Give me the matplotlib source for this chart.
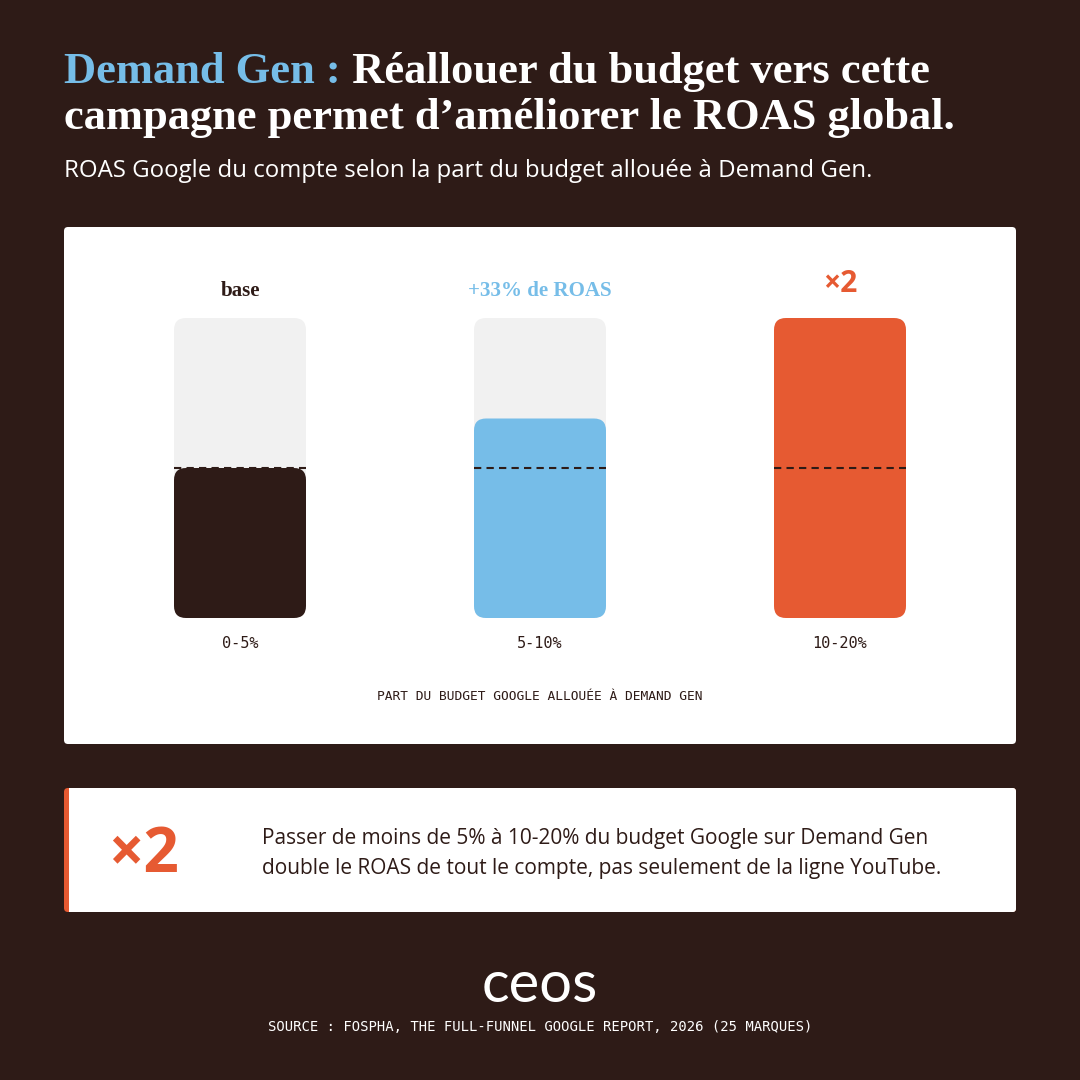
import matplotlib
matplotlib.use("Agg")
import matplotlib.pyplot as plt
from matplotlib.patches import FancyBboxPatch, Rectangle

# données
categories = ["0-5%", "5-10%", "10-20%"]
roas_index = [1.0, 1.33, 2.0]
top_labels = ["base", "+33% de ROAS", "\u00d72"]
axis_label = "PART DU BUDGET GOOGLE ALLOUÉE À DEMAND GEN"
title_blue = "Demand Gen :"
title_rest = " Réallouer du budget vers cette"
title_line2 = "campagne permet d’améliorer le ROAS global."
subtitle = "ROAS Google du compte selon la part du budget allouée à Demand Gen."
callout_big = "\u00d72"
callout_text = ["Passer de moins de 5% à 10-20% du budget Google sur Demand Gen",
                "double le ROAS de tout le compte, pas seulement de la ligne YouTube."]
source = "SOURCE : FOSPHA, THE FULL-FUNNEL GOOGLE REPORT, 2026 (25 MARQUES)"

# couleurs
BG = "#2e1b17"
BLUE = "#76bde8"
ORANGE = "#e65a32"
TRACK = "#f1f1f1"
bar_colors = [BG, BLUE, ORANGE]
label_colors = [BG, BLUE, ORANGE]

SERIF = ["Liberation Serif", "DejaVu Serif"]
SANS = ["Open Sans", "DejaVu Sans"]
MONO = ["DejaVu Sans Mono"]

def pt(px):
    return px * 0.72

fig = plt.figure(figsize=(10.8, 10.8), dpi=100, facecolor=BG)
bg = fig.add_axes([0, 0, 1, 1])
bg.set_xlim(0, 1080)
bg.set_ylim(1080, 0)
bg.axis("off")

# titre
t1 = bg.text(64, 83, title_blue, color=BLUE, fontsize=pt(44.5), fontweight="bold",
             family=SERIF, va="baseline")
bg.annotate(title_rest, xy=(1, 0), xycoords=t1, va="bottom", ha="left",
            color="white", fontsize=pt(44.5), fontweight="bold", family=SERIF)
bg.text(64, 129, title_line2, color="white", fontsize=pt(44.5), fontweight="bold",
        family=SERIF, va="baseline")
bg.text(64, 177, subtitle, color="white", fontsize=pt(24), family=SANS, va="baseline")

# panneau du graphique
bg.add_patch(FancyBboxPatch((64, 227), 952, 517, boxstyle="round,pad=0,rounding_size=4",
                            fc="white", ec="none"))

# axes des barres
ax = fig.add_axes([90 / 1080, (1080 - 618) / 1080, 900 / 1080, 300 / 1080])
ax.set_xlim(-0.5, 2.5)
ax.set_ylim(0, 2)
ax.axis("off")

w = 0.44
ymax = max(roas_index)
for i, (cat, v) in enumerate(zip(categories, roas_index)):
    ax.add_patch(FancyBboxPatch((i - w / 2, 0), w, ymax,
                                boxstyle="round,pad=0,rounding_size=0.04",
                                mutation_aspect=2, fc=TRACK, ec="none"))
    ax.add_patch(FancyBboxPatch((i - w / 2, 0), w, v,
                                boxstyle="round,pad=0,rounding_size=0.04",
                                mutation_aspect=2, fc=bar_colors[i], ec="none"))
    ax.hlines(roas_index[0], i - w / 2, i + w / 2, colors=BG, lw=1.5,
              linestyles=(0, (3.5, 2.5)))
    ax.annotate(cat, xy=(i, 0), xytext=(0, pt(-26)), textcoords="offset points",
                ha="center", va="center", fontsize=11, family=MONO, color=BG)
    big = i == 2
    ax.annotate(top_labels[i], xy=(i, ymax),
                xytext=(0, pt(34 if big else 27)), textcoords="offset points",
                ha="center", va="center", fontsize=pt(30 if big else 21),
                fontweight="bold", family=SERIF if not big else SANS,
                color=label_colors[i], annotation_clip=False)

ax.annotate(axis_label, xy=(0.5, 0), xycoords="axes fraction", xytext=(0, pt(-78)),
            textcoords="offset points", ha="center", va="center", fontsize=9.3,
            family=MONO, color=BG)

# encadré
bg.add_patch(FancyBboxPatch((64, 788), 952, 124, boxstyle="round,pad=0,rounding_size=4",
                            fc=ORANGE, ec="none"))
bg.add_patch(FancyBboxPatch((69, 788), 947, 124, boxstyle="round,pad=0,rounding_size=3",
                            fc="white", ec="none"))
bg.add_patch(Rectangle((69, 788), 6, 124, fc="white", ec="none"))
bg.text(108, 872, callout_big, color=ORANGE, fontsize=pt(62), fontweight="bold",
        family=SANS, va="baseline")
bg.text(262, 844, callout_text[0], color=BG, fontsize=pt(20.9), family=SANS, va="baseline")
bg.text(262, 874, callout_text[1], color=BG, fontsize=pt(20.9), family=SANS, va="baseline")

# logo et source
bg.text(540, 1002, "ceos", color="white", fontsize=pt(58), family=["Lato", "DejaVu Sans"],
        ha="center", va="baseline")
bg.text(540, 1027, source, color="white", fontsize=10, family=MONO, ha="center", va="center")

fig.savefig("out.png", dpi=100, facecolor=BG)
